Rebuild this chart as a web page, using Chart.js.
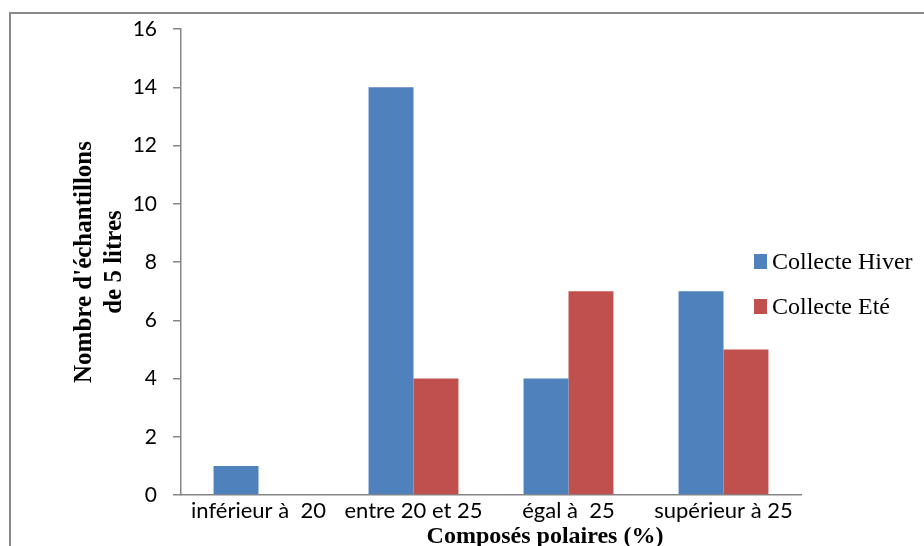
<!DOCTYPE html>
<html>
<head>
<meta charset="utf-8">
<script src="https://cdn.jsdelivr.net/npm/chart.js@4.4.1/dist/chart.umd.min.js"></script>
<style>
  html, body { margin: 0; padding: 0; background: #fff; overflow: hidden; }
  #wrap { position: relative; width: 924px; height: 546px; overflow: hidden; }
  #frame { position: absolute; left: 9px; top: 12px; width: 1000px; height: 1000px; border: 2px solid #898989; box-sizing: border-box; }
  canvas { position: absolute; left: 0; top: 0; }
</style>
</head>
<body>
<div id="wrap">
  <div id="frame"></div>
  <canvas id="c" width="924" height="546"></canvas>
</div>
<script>
const categories = ["inférieur à  20", "entre 20 et 25", "égal à  25", "supérieur à 25"];
const hiverValues = [1, 14, 4, 7];
const eteValues = [null, 4, 7, 5];
const seriesLabels = ["Collecte Hiver", "Collecte Eté"];
const seriesColors = ["#4F81BD", "#C0504D"];
const yTitle = ["Nombre d'échantillons", "de 5 litres"];
const xTitle = "Composés polaires (%)";

const customLegend = {
  id: 'customLegend',
  afterDraw(chart) {
    const ctx = chart.ctx;
    ctx.save();
    const ys = [262, 307];
    chart.data.datasets.forEach((ds, i) => {
      ctx.fillStyle = ds.backgroundColor;
      ctx.fillRect(754, ys[i] - 8, 13, 15);
      ctx.fillStyle = '#000';
      ctx.font = '24px "Liberation Serif"';
      ctx.textBaseline = 'middle';
      ctx.textAlign = 'left';
      ctx.fillText(ds.label, 772, ys[i] + 1);
    });
    ctx.restore();
  }
};

const xTitlePlugin = {
  id: 'xTitlePlugin',
  afterDraw(chart) {
    const ctx = chart.ctx;
    ctx.save();
    ctx.fillStyle = '#000';
    ctx.font = 'bold 24px "Liberation Serif"';
    ctx.textAlign = 'center';
    ctx.textBaseline = 'alphabetic';
    ctx.fillText(xTitle, 545, 543);
    ctx.restore();
  }
};

new Chart(document.getElementById('c'), {
  type: 'bar',
  data: {
    labels: categories,
    datasets: [
      { label: seriesLabels[0], data: hiverValues, backgroundColor: seriesColors[0] },
      { label: seriesLabels[1], data: eteValues, backgroundColor: seriesColors[1] }
    ]
  },
  options: {
    responsive: false,
    devicePixelRatio: 1,
    animation: false,
    layout: { padding: { left: 70, top: 29, right: 123, bottom: 0 } },
    datasets: { bar: { categoryPercentage: 0.58, barPercentage: 1.0 } },
    plugins: { legend: { display: false }, tooltip: { enabled: false } },
    scales: {
      x: {
        grid: { display: false, drawTicks: false },
        border: { display: true, color: '#868686', width: 1.5 },
        ticks: { color: '#000', font: { family: 'Lato', size: 22 }, padding: 3, maxRotation: 0, autoSkip: false },
        afterFit(scale) { scale.height = 51; }
      },
      y: {
        min: 0, max: 16,
        grid: { display: true, drawOnChartArea: false, drawTicks: true, tickLength: 8, color: '#868686', lineWidth: 1.5 },
        border: { display: true, color: '#868686', width: 1.5 },
        ticks: { stepSize: 2, color: '#000', font: { family: 'Lato', size: 21 }, padding: 16 },
        title: { display: true, text: yTitle, color: '#000', font: { family: '"Liberation Serif"', size: 25, weight: 'bold', lineHeight: 1.2 }, padding: { top: 0, bottom: 0 } },
        afterFit(scale) { scale.width = 111; }
      }
    }
  },
  plugins: [customLegend, xTitlePlugin]
});
</script>
</body>
</html>
